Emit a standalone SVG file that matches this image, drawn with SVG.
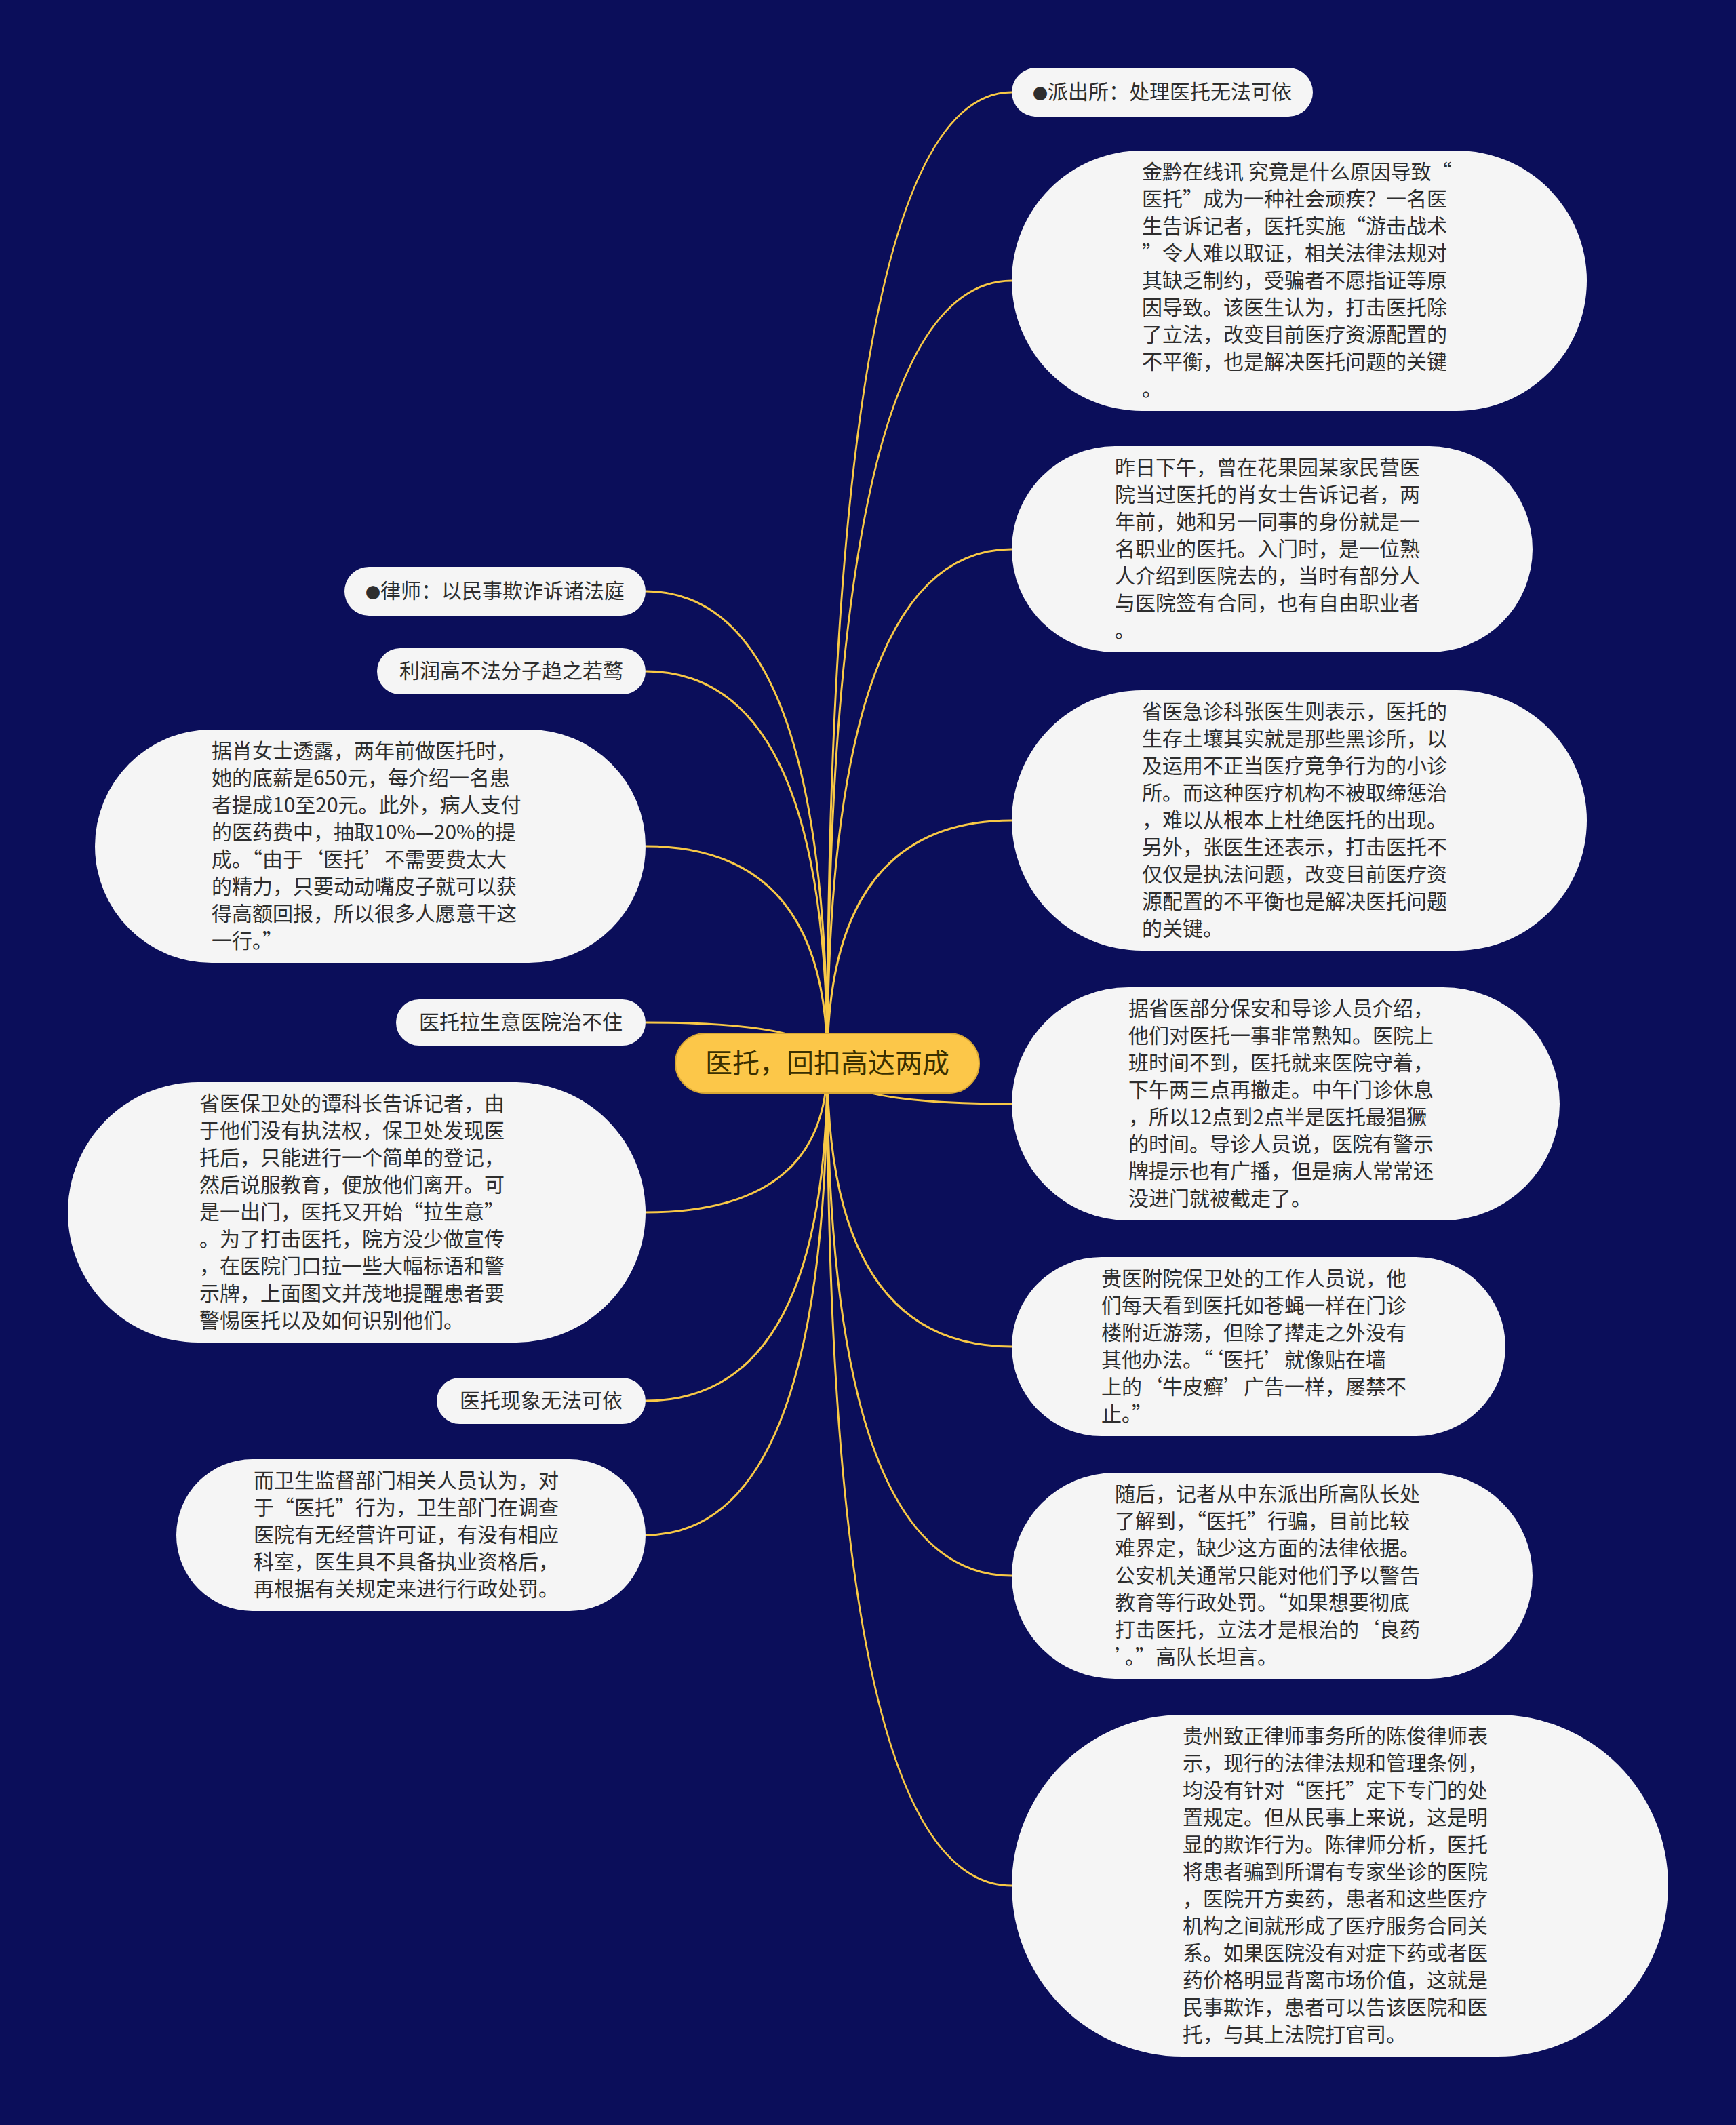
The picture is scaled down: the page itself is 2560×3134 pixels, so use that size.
<svg xmlns="http://www.w3.org/2000/svg" width="2560" height="3134" viewBox="0 0 2560 3134">
<style>
.bg{fill:#0b0e5a}
.box{fill:#f5f5f5}
.t{font-family:"Noto Sans CJK SC","Noto Sans",sans-serif;font-size:30px;fill:#2e2e2e}
.c{text-anchor:middle}
.b{font-size:22px}
.link{fill:none;stroke:#f8c846;stroke-width:3}
.root{fill:#fcc749;stroke:#d8a735;stroke-width:2}
.rt{font-family:"Noto Sans CJK SC","Noto Sans",sans-serif;font-size:40px;fill:#3a3000;text-anchor:middle}
</style>
<rect class="bg" x="0" y="0" width="2560" height="3134"/>
<g id="connectors">
<path class="link" d="M1220 1568 Q1220 136 1492 136"/>
<path class="link" d="M1220 1568 Q1220 414 1492 414"/>
<path class="link" d="M1220 1568 Q1220 810 1492 810"/>
<path class="link" d="M1220 1568 Q1220 1210 1492 1210"/>
<path class="link" d="M1220 1568 Q1220 1628 1492 1628"/>
<path class="link" d="M1220 1568 Q1220 1986 1492 1986"/>
<path class="link" d="M1220 1568 Q1220 2324 1492 2324"/>
<path class="link" d="M1220 1568 Q1220 2781 1492 2781"/>
<path class="link" d="M1220 1568 Q1220 872 952 872"/>
<path class="link" d="M1220 1568 Q1220 990 952 990"/>
<path class="link" d="M1220 1568 Q1220 1248 952 1248"/>
<path class="link" d="M1220 1568 Q1220 1508 952 1508"/>
<path class="link" d="M1220 1568 Q1220 1788 952 1788"/>
<path class="link" d="M1220 1568 Q1220 2066 952 2066"/>
<path class="link" d="M1220 1568 Q1220 2264 952 2264"/>
</g>
<g id="root">
<rect class="root" x="996" y="1524" width="448" height="88" rx="44"/>
<text class="rt" x="1220" y="1582">医托，回扣高达两成</text>
</g>
<g id="r1">
<rect class="box" x="1492" y="100" width="444" height="72" rx="36"/>
<text class="t c" x="1714" y="146"><tspan class="b">●</tspan>派出所：处理医托无法可依</text>
</g>
<g id="r2">
<rect class="box" x="1492" y="222" width="848" height="384" rx="192"/>
<text class="t">
<tspan x="1684" y="264">金黔在线讯 究竟是什么原因导致“</tspan>
<tspan x="1684" y="304">医托”成为一种社会顽疾？一名医</tspan>
<tspan x="1684" y="344">生告诉记者，医托实施“游击战术</tspan>
<tspan x="1684" y="384">”令人难以取证，相关法律法规对</tspan>
<tspan x="1684" y="424">其缺乏制约，受骗者不愿指证等原</tspan>
<tspan x="1684" y="464">因导致。该医生认为，打击医托除</tspan>
<tspan x="1684" y="504">了立法，改变目前医疗资源配置的</tspan>
<tspan x="1684" y="544">不平衡，也是解决医托问题的关键</tspan>
<tspan x="1684" y="584">。</tspan>
</text>
</g>
<g id="r3">
<rect class="box" x="1492" y="658" width="768" height="304" rx="152"/>
<text class="t">
<tspan x="1644" y="700">昨日下午，曾在花果园某家民营医</tspan>
<tspan x="1644" y="740">院当过医托的肖女士告诉记者，两</tspan>
<tspan x="1644" y="780">年前，她和另一同事的身份就是一</tspan>
<tspan x="1644" y="820">名职业的医托。入门时，是一位熟</tspan>
<tspan x="1644" y="860">人介绍到医院去的，当时有部分人</tspan>
<tspan x="1644" y="900">与医院签有合同，也有自由职业者</tspan>
<tspan x="1644" y="940">。</tspan>
</text>
</g>
<g id="r4">
<rect class="box" x="1492" y="1018" width="848" height="384" rx="192"/>
<text class="t">
<tspan x="1684" y="1060">省医急诊科张医生则表示，医托的</tspan>
<tspan x="1684" y="1100">生存土壤其实就是那些黑诊所，以</tspan>
<tspan x="1684" y="1140">及运用不正当医疗竞争行为的小诊</tspan>
<tspan x="1684" y="1180">所。而这种医疗机构不被取缔惩治</tspan>
<tspan x="1684" y="1220">，难以从根本上杜绝医托的出现。</tspan>
<tspan x="1684" y="1260">另外，张医生还表示，打击医托不</tspan>
<tspan x="1684" y="1300">仅仅是执法问题，改变目前医疗资</tspan>
<tspan x="1684" y="1340">源配置的不平衡也是解决医托问题</tspan>
<tspan x="1684" y="1380">的关键。</tspan>
</text>
</g>
<g id="r5">
<rect class="box" x="1492" y="1456" width="808" height="344" rx="172"/>
<text class="t">
<tspan x="1664" y="1498">据省医部分保安和导诊人员介绍，</tspan>
<tspan x="1664" y="1538">他们对医托一事非常熟知。医院上</tspan>
<tspan x="1664" y="1578">班时间不到，医托就来医院守着，</tspan>
<tspan x="1664" y="1618">下午两三点再撤走。中午门诊休息</tspan>
<tspan x="1664" y="1658">，所以12点到2点半是医托最猖獗</tspan>
<tspan x="1664" y="1698">的时间。导诊人员说，医院有警示</tspan>
<tspan x="1664" y="1738">牌提示也有广播，但是病人常常还</tspan>
<tspan x="1664" y="1778">没进门就被截走了。</tspan>
</text>
</g>
<g id="r6">
<rect class="box" x="1492" y="1854" width="728" height="264" rx="132"/>
<text class="t">
<tspan x="1624" y="1896">贵医附院保卫处的工作人员说，他</tspan>
<tspan x="1624" y="1936">们每天看到医托如苍蝇一样在门诊</tspan>
<tspan x="1624" y="1976">楼附近游荡，但除了撵走之外没有</tspan>
<tspan x="1624" y="2016">其他办法。“‘医托’就像贴在墙</tspan>
<tspan x="1624" y="2056">上的‘牛皮癣’广告一样，屡禁不</tspan>
<tspan x="1624" y="2096">止。”</tspan>
</text>
</g>
<g id="r7">
<rect class="box" x="1492" y="2172" width="768" height="304" rx="152"/>
<text class="t">
<tspan x="1644" y="2214">随后，记者从中东派出所高队长处</tspan>
<tspan x="1644" y="2254">了解到，“医托”行骗，目前比较</tspan>
<tspan x="1644" y="2294">难界定，缺少这方面的法律依据。</tspan>
<tspan x="1644" y="2334">公安机关通常只能对他们予以警告</tspan>
<tspan x="1644" y="2374">教育等行政处罚。“如果想要彻底</tspan>
<tspan x="1644" y="2414">打击医托，立法才是根治的‘良药</tspan>
<tspan x="1644" y="2454">’。”高队长坦言。</tspan>
</text>
</g>
<g id="r8">
<rect class="box" x="1492" y="2529" width="968" height="504" rx="252"/>
<text class="t">
<tspan x="1744" y="2571">贵州致正律师事务所的陈俊律师表</tspan>
<tspan x="1744" y="2611">示，现行的法律法规和管理条例，</tspan>
<tspan x="1744" y="2651">均没有针对“医托”定下专门的处</tspan>
<tspan x="1744" y="2691">置规定。但从民事上来说，这是明</tspan>
<tspan x="1744" y="2731">显的欺诈行为。陈律师分析，医托</tspan>
<tspan x="1744" y="2771">将患者骗到所谓有专家坐诊的医院</tspan>
<tspan x="1744" y="2811">，医院开方卖药，患者和这些医疗</tspan>
<tspan x="1744" y="2851">机构之间就形成了医疗服务合同关</tspan>
<tspan x="1744" y="2891">系。如果医院没有对症下药或者医</tspan>
<tspan x="1744" y="2931">药价格明显背离市场价值，这就是</tspan>
<tspan x="1744" y="2971">民事欺诈，患者可以告该医院和医</tspan>
<tspan x="1744" y="3011">托，与其上法院打官司。</tspan>
</text>
</g>
<g id="l1">
<rect class="box" x="508" y="836" width="444" height="72" rx="36"/>
<text class="t c" x="730" y="882"><tspan class="b">●</tspan>律师：以民事欺诈诉诸法庭</text>
</g>
<g id="l2">
<rect class="box" x="556" y="956" width="396" height="68" rx="34"/>
<text class="t c" x="754" y="1000">利润高不法分子趋之若鹜</text>
</g>
<g id="l3">
<rect class="box" x="140" y="1076" width="812" height="344" rx="172"/>
<text class="t">
<tspan x="312" y="1118">据肖女士透露，两年前做医托时，</tspan>
<tspan x="312" y="1158">她的底薪是650元，每介绍一名患</tspan>
<tspan x="312" y="1198">者提成10至20元。此外，病人支付</tspan>
<tspan x="312" y="1238">的医药费中，抽取10%—20%的提</tspan>
<tspan x="312" y="1278">成。“由于‘医托’不需要费太大</tspan>
<tspan x="312" y="1318">的精力，只要动动嘴皮子就可以获</tspan>
<tspan x="312" y="1358">得高额回报，所以很多人愿意干这</tspan>
<tspan x="312" y="1398">一行。”</tspan>
</text>
</g>
<g id="l4">
<rect class="box" x="584" y="1474" width="368" height="68" rx="34"/>
<text class="t c" x="768" y="1518">医托拉生意医院治不住</text>
</g>
<g id="l5">
<rect class="box" x="100" y="1596" width="852" height="384" rx="192"/>
<text class="t">
<tspan x="294" y="1638">省医保卫处的谭科长告诉记者，由</tspan>
<tspan x="294" y="1678">于他们没有执法权，保卫处发现医</tspan>
<tspan x="294" y="1718">托后，只能进行一个简单的登记，</tspan>
<tspan x="294" y="1758">然后说服教育，便放他们离开。可</tspan>
<tspan x="294" y="1798">是一出门，医托又开始“拉生意”</tspan>
<tspan x="294" y="1838">。为了打击医托，院方没少做宣传</tspan>
<tspan x="294" y="1878">，在医院门口拉一些大幅标语和警</tspan>
<tspan x="294" y="1918">示牌，上面图文并茂地提醒患者要</tspan>
<tspan x="294" y="1958">警惕医托以及如何识别他们。</tspan>
</text>
</g>
<g id="l6">
<rect class="box" x="644" y="2032" width="308" height="68" rx="34"/>
<text class="t c" x="798" y="2076">医托现象无法可依</text>
</g>
<g id="l7">
<rect class="box" x="260" y="2152" width="692" height="224" rx="112"/>
<text class="t">
<tspan x="374" y="2194">而卫生监督部门相关人员认为，对</tspan>
<tspan x="374" y="2234">于“医托”行为，卫生部门在调查</tspan>
<tspan x="374" y="2274">医院有无经营许可证，有没有相应</tspan>
<tspan x="374" y="2314">科室，医生具不具备执业资格后，</tspan>
<tspan x="374" y="2354">再根据有关规定来进行行政处罚。</tspan>
</text>
</g>
</svg>
